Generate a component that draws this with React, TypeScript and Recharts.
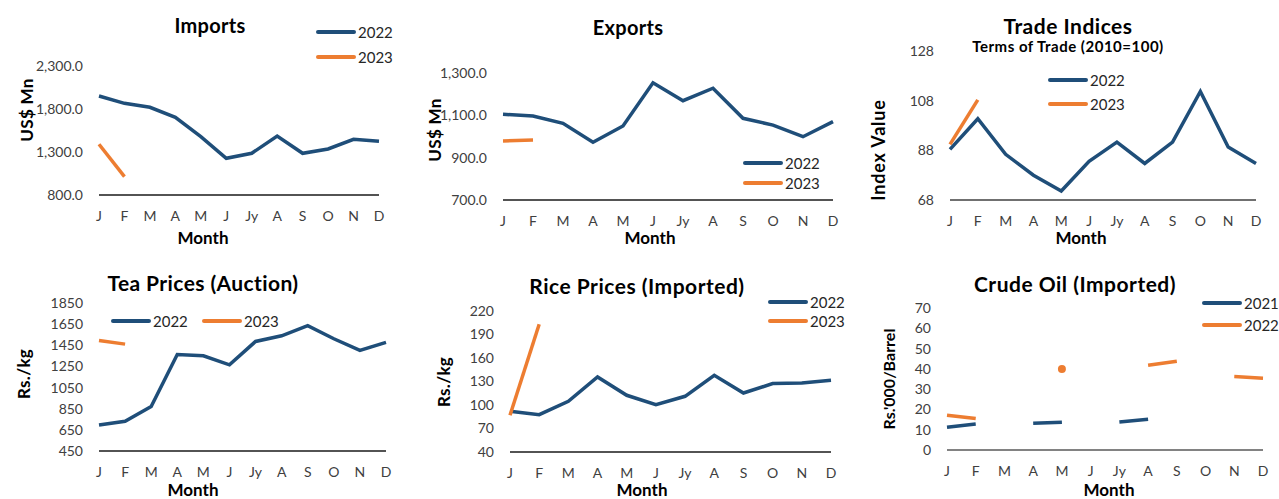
import React from 'react';
import { LineChart, Line, XAxis, YAxis } from 'recharts';

const months = ['J', 'F', 'M', 'A', 'M', 'J', 'Jy', 'A', 'S', 'O', 'N', 'D'];

const imports2022 = [1951, 1866, 1820, 1703, 1478, 1227, 1285, 1486, 1285, 1335, 1448, 1425];
const imports2023 = [1390, 1013];
const exports2022 = [1105, 1097, 1062, 973, 1050, 1254, 1169, 1228, 1086, 1054, 999, 1070];
const exports2023 = [979, 983];
const tot2022 = [88.4, 100.7, 86.4, 78, 71.6, 83.6, 91.3, 82.7, 91.3, 111.7, 89.3, 82.7];
const tot2023 = [90.4, 108.3];
const tea2022 = [696, 731, 870, 1363, 1350, 1265, 1486, 1540, 1635, 1512, 1401, 1477];
const tea2023 = [1496, 1461];
const rice2022 = [92, 87.7, 104.7, 135.8, 112.4, 100.5, 111.1, 137.9, 115.3, 127.3, 128.1, 131.5];
const rice2023 = [86.8, 203];
const crude2021 = [11.2, 12.8, null, 13.2, 13.7, null, 13.8, 15.2, null, null, null, null];
const crude2022 = [17.1, 15.5, null, null, 39.9, null, null, 41.8, 43.8, null, 36.2, 35.4];

const importTicks = [800, 1300, 1800, 2300];
const exportTicks = [700, 900, 1100, 1300];
const totTicks = [68, 88, 108, 128];
const teaTicks = [450, 650, 850, 1050, 1250, 1450, 1650, 1850];
const riceTicks = [40, 70, 100, 130, 160, 190, 220];
const crudeTicks = [0, 10, 20, 30, 40, 50, 60, 70];

const BLUE = '#1F4E79';
const ORANGE = '#ED7D31';
const FONT = 'Lato, sans-serif';

type Num = number | null;

const buildRows = (a: Num[], b: Num[]) =>
  months.map((m, i) => ({ month: m, a: a[i] ?? null, b: b[i] ?? null }));

const fmtMn = (v: number) =>
  v.toLocaleString('en-US', { minimumFractionDigits: 1, maximumFractionDigits: 1 });

type Box = { x: number; y: number; w: number; h: number };
type Plot = { l: number; r: number; t: number; b: number };

type PanelProps = {
  box: Box;
  plot: Plot;
  rows: { month: string; a: Num; b: Num }[];
  ticks: number[];
  fmt?: (v: number) => string;
  axisColor?: string;
  isolatedDots?: boolean;
};

const YW = 60;
const XH = 30;

const Panel: React.FC<PanelProps> = ({ box, plot, rows, ticks, fmt, axisColor = '#1a1a1a', isolatedDots }) => {
  const margin = {
    top: plot.t - box.y,
    bottom: box.y + box.h - plot.b - XH,
    left: plot.l - box.x - YW,
    right: box.x + box.w - plot.r
  };
  // a lone value between gaps gets a dot, like the May point on crude oil
  const isoDot = (key: 'a' | 'b', color: string) => (p: any) => {
    const i = p.index;
    const prev = i > 0 ? rows[i - 1][key] : null;
    const next = i < rows.length - 1 ? rows[i + 1][key] : null;
    if (p.value == null || prev != null || next != null || p.cy == null) return <g key={`d${key}${i}`} />;
    return <circle key={`d${key}${i}`} cx={p.cx} cy={p.cy} r={4} fill={color} />;
  };
  return (
    <div style={{ position: 'absolute', left: box.x, top: box.y }}>
      <LineChart width={box.w} height={box.h} data={rows} margin={margin}>
        <XAxis
          dataKey="month"
          interval={0}
          height={XH}
          tickLine={false}
          tickSize={0}
          tickMargin={16}
          axisLine={{ stroke: axisColor, strokeWidth: 1.5 }}
          tick={{ fill: '#404040', fontSize: 14, fontFamily: FONT }}
        />
        <YAxis
          width={YW}
          domain={[ticks[0], ticks[ticks.length - 1]]}
          ticks={ticks}
          interval={0}
          axisLine={false}
          tickLine={false}
          tickSize={0}
          tickMargin={16}
          tickFormatter={fmt}
          tick={{ fill: '#404040', fontSize: 14, fontFamily: FONT }}
        />
        <Line
          type="linear"
          dataKey="a"
          stroke={BLUE}
          strokeWidth={3.5}
          dot={isolatedDots ? isoDot('a', BLUE) : false}
          activeDot={false}
          isAnimationActive={false}
        />
        <Line
          type="linear"
          dataKey="b"
          stroke={ORANGE}
          strokeWidth={3.5}
          dot={isolatedDots ? isoDot('b', ORANGE) : false}
          activeDot={false}
          isAnimationActive={false}
        />
      </LineChart>
    </div>
  );
};

const Txt: React.FC<{
  x: number;
  y: number;
  size: number;
  bold?: boolean;
  rotate?: boolean;
  spacing?: number;
  children: React.ReactNode;
}> = ({ x, y, size, bold, rotate, spacing = 0, children }) => (
  <div
    style={{
      position: 'absolute',
      left: x,
      top: y,
      transform: `translate(-50%, -50%)${rotate ? ' rotate(-90deg)' : ''}`,
      fontSize: size,
      fontWeight: bold ? 700 : 400,
      letterSpacing: spacing,
      color: '#000',
      whiteSpace: 'nowrap',
      lineHeight: 1,
      fontFamily: FONT
    }}
  >
    {children}
  </div>
);

const LegendItem: React.FC<{ x: number; y: number; color: string; label: string }> = ({ x, y, color, label }) => (
  <div style={{ position: 'absolute', left: x, top: y - 9, height: 18, display: 'flex', alignItems: 'center' }}>
    <span style={{ width: 40, height: 4, borderRadius: 2, background: color, display: 'inline-block' }} />
    <span style={{ marginLeft: 2, fontSize: 15, color: '#262626', fontFamily: FONT }}>{label}</span>
  </div>
);

const App: React.FC = () => (
  <div style={{ position: 'absolute', left: 0, top: 0, width: 1279, height: 499, background: '#fff', overflow: 'hidden' }}>
    {/* top row */}
    <Panel
      box={{ x: 0, y: 0, w: 425, h: 250 }}
      plot={{ l: 99, r: 379, t: 66, b: 195 }}
      rows={buildRows(imports2022, imports2023)}
      ticks={importTicks}
      fmt={fmtMn}
    />
    <Panel
      box={{ x: 425, y: 0, w: 425, h: 250 }}
      plot={{ l: 503, r: 833, t: 73, b: 200 }}
      rows={buildRows(exports2022, exports2023)}
      ticks={exportTicks}
      fmt={fmtMn}
    />
    <Panel
      box={{ x: 850, y: 0, w: 429, h: 250 }}
      plot={{ l: 950, r: 1256, t: 51, b: 200 }}
      rows={buildRows(tot2022, tot2023)}
      ticks={totTicks}
      axisColor="#404040"
    />
    {/* bottom row */}
    <Panel
      box={{ x: 0, y: 258, w: 425, h: 241 }}
      plot={{ l: 99, r: 386, t: 303, b: 451 }}
      rows={buildRows(tea2022, tea2023)}
      ticks={teaTicks}
    />
    <Panel
      box={{ x: 425, y: 258, w: 425, h: 241 }}
      plot={{ l: 510, r: 831, t: 311, b: 452 }}
      rows={buildRows(rice2022, rice2023)}
      ticks={riceTicks}
    />
    <Panel
      box={{ x: 850, y: 258, w: 429, h: 241 }}
      plot={{ l: 947, r: 1263, t: 308, b: 450 }}
      rows={buildRows(crude2021, crude2022)}
      ticks={crudeTicks}
      axisColor="#595959"
      isolatedDots
    />

    <Txt x={210} y={25} size={20} bold spacing={0.3}>Imports</Txt>
    <Txt x={628} y={27} size={20} bold spacing={0.3}>Exports</Txt>
    <Txt x={1068} y={25} size={21} bold spacing={0.5}>Trade Indices</Txt>
    <Txt x={1068} y={46} size={15} bold spacing={0.5}>Terms of Trade (2010=100)</Txt>
    <Txt x={203} y={282} size={21} bold spacing={0.4}>Tea Prices (Auction)</Txt>
    <Txt x={637} y={285} size={21} bold spacing={0.5}>Rice Prices (Imported)</Txt>
    <Txt x={1075} y={283} size={21} bold spacing={0.5}>Crude Oil (Imported)</Txt>

    <Txt x={203} y={237} size={17} bold>Month</Txt>
    <Txt x={650} y={237} size={17} bold>Month</Txt>
    <Txt x={1081} y={237} size={17} bold>Month</Txt>
    <Txt x={193} y={489} size={17} bold>Month</Txt>
    <Txt x={642} y={489} size={17} bold>Month</Txt>
    <Txt x={1109} y={489} size={17} bold>Month</Txt>

    <Txt x={26} y={110} size={17} bold rotate spacing={0.3}>US$ Mn</Txt>
    <Txt x={434} y={130} size={17} bold rotate spacing={0.3}>US$ Mn</Txt>
    <Txt x={878} y={150} size={18} bold rotate spacing={0.8}>Index Value</Txt>
    <Txt x={23} y={374} size={17} bold rotate spacing={0.3}>Rs./kg</Txt>
    <Txt x={443} y={382} size={17} bold rotate spacing={0.3}>Rs./kg</Txt>
    <Txt x={889} y={379} size={16} bold rotate>Rs.'000/Barrel</Txt>

    <LegendItem x={316} y={32} color={BLUE} label="2022" />
    <LegendItem x={316} y={57} color={ORANGE} label="2023" />
    <LegendItem x={743} y={163} color={BLUE} label="2022" />
    <LegendItem x={743} y={183} color={ORANGE} label="2023" />
    <LegendItem x={1048} y={80} color={BLUE} label="2022" />
    <LegendItem x={1048} y={104} color={ORANGE} label="2023" />
    <LegendItem x={111} y={321} color={BLUE} label="2022" />
    <LegendItem x={202} y={321} color={ORANGE} label="2023" />
    <LegendItem x={768} y={302} color={BLUE} label="2022" />
    <LegendItem x={768} y={321} color={ORANGE} label="2023" />
    <LegendItem x={1202} y={303} color={BLUE} label="2021" />
    <LegendItem x={1202} y={325} color={ORANGE} label="2022" />
  </div>
);

export default App;
